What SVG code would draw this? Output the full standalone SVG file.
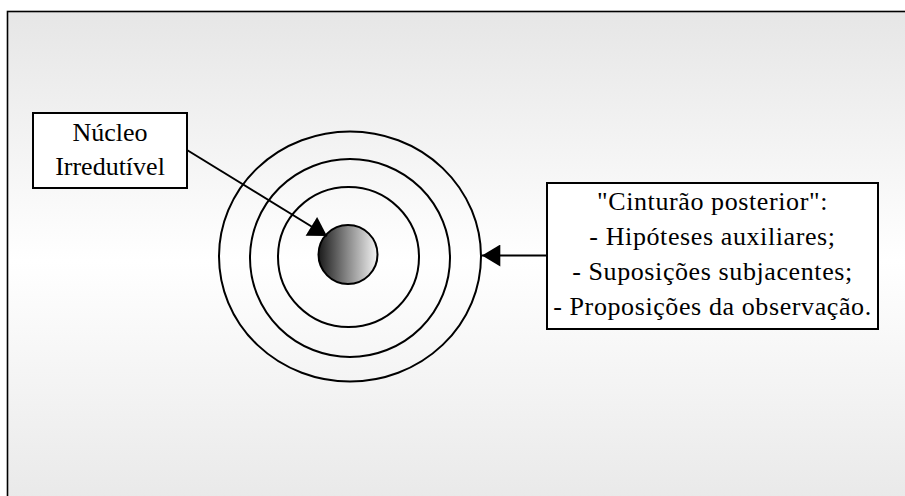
<svg xmlns="http://www.w3.org/2000/svg" width="905" height="496" viewBox="0 0 905 496">
  <defs>
    <linearGradient id="bg" x1="0" y1="0" x2="0" y2="1">
      <stop offset="0" stop-color="#e6e6e6"/>
      <stop offset="0.5" stop-color="#ffffff"/>
      <stop offset="1" stop-color="#e8e8e8"/>
    </linearGradient>
    <linearGradient id="core" x1="0" y1="0" x2="1" y2="0">
      <stop offset="0" stop-color="#1a1a1a"/>
      <stop offset="0.5" stop-color="#8a8a8a"/>
      <stop offset="1" stop-color="#f4f4f4"/>
    </linearGradient>
    <marker id="head" viewBox="0 0 20 24" refX="20" refY="12" markerWidth="19" markerHeight="22" markerUnits="userSpaceOnUse" orient="auto">
      <path d="M0,0 L20,12 L0,24 Z" fill="#000"/>
    </marker>
    <style>
      .ring { fill: none; stroke: #000; stroke-width: 2; }
      .box { fill: #fff; stroke: #000; stroke-width: 2; }
      .lbl { font-family: "Liberation Serif", "Times New Roman", serif; font-size: 26px; fill: #000; text-anchor: middle; }
      .conn { stroke: #000; stroke-width: 2; fill: none; marker-end: url(#head); }
    </style>
  </defs>

  <!-- page background and frame -->
  <rect x="0" y="0" width="905" height="496" fill="#fff"/>
  <rect x="7.5" y="11.5" width="910" height="500" fill="url(#bg)" stroke="#000" stroke-width="1.6"/>

  <!-- concentric belts around the core -->
  <g id="belts">
    <ellipse class="ring" cx="350" cy="256.5" rx="131" ry="125"/>
    <ellipse class="ring" cx="350" cy="258" rx="100" ry="99"/>
    <ellipse class="ring" cx="348.5" cy="257" rx="70.5" ry="70"/>
  </g>

  <g id="core">
    <circle cx="348" cy="254.5" r="29.5" fill="url(#core)" stroke="#000" stroke-width="2"/>
  </g>

  <g id="nucleo">
    <rect class="box" x="33" y="113" width="154" height="75"/>
    <text class="lbl" x="110" y="141">Núcleo</text>
    <text class="lbl" x="110" y="175">Irredutível</text>
  </g>

  <g id="cinturao">
    <rect class="box" x="547" y="183" width="331" height="146"/>
    <text class="lbl" x="712.5" y="210" letter-spacing="0.6">"Cinturão posterior":</text>
    <text class="lbl" x="712.5" y="245" letter-spacing="0.6">- Hipóteses auxiliares;</text>
    <text class="lbl" x="712.5" y="280" letter-spacing="0.6">- Suposições subjacentes;</text>
    <text class="lbl" x="712.5" y="315" letter-spacing="0.6">- Proposições da observação.</text>
  </g>

  <g id="connectors">
    <line class="conn" x1="187" y1="150" x2="327" y2="236"/>
    <line class="conn" x1="547" y1="255.5" x2="482" y2="255.5"/>
  </g>
</svg>
